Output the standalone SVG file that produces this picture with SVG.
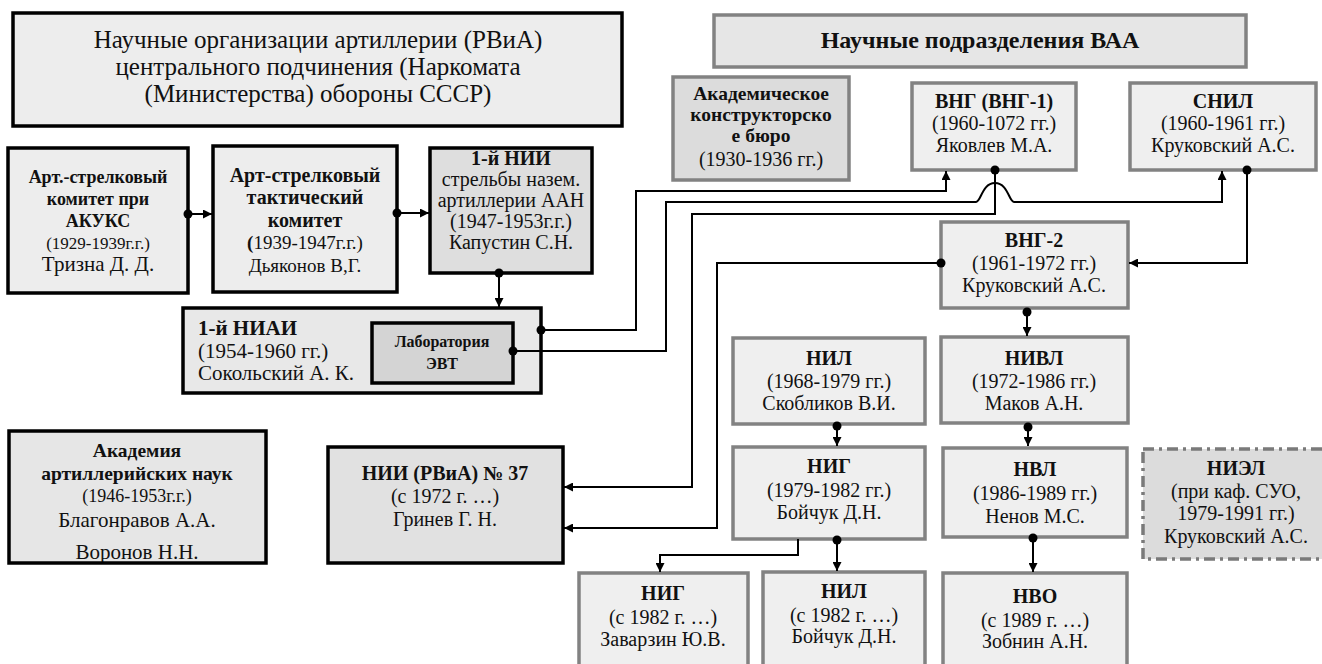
<svg xmlns="http://www.w3.org/2000/svg" width="1322" height="664" viewBox="0 0 1322 664" font-family="'Liberation Serif', 'DejaVu Serif', serif">
<style>
text{font-family:'Liberation Serif','DejaVu Serif',serif;fill:#111;text-anchor:middle;font-size:20px}
.bd{font-weight:bold}
.lt{text-anchor:start}
.kb{stroke:#000;stroke-width:3.5}
.gb{stroke:#828282;stroke-width:3.5}
.f1{fill:#ededed}
.f2{fill:#dedede}
.f3{fill:#e6e6e6}
.fg{fill:#efefef}
.dash{fill:#dcdcdc;stroke:#7a7a7a;stroke-width:3.5;stroke-dasharray:11 5 3 5}
.c{fill:none;stroke:#000;stroke-width:2}
.dot{fill:#000}
</style>
<defs>
<marker id="ar" viewBox="0 0 10 10" refX="10" refY="5" markerWidth="9" markerHeight="9" markerUnits="userSpaceOnUse" orient="auto">
<path d="M0,0 L10,5 L0,10 z" fill="#000"/>
</marker>
</defs>

<g id="title">
<rect x="13" y="13" width="609" height="113" class="kb f1"/>
<text x="318" y="48" style="font-size:25px">Научные организации артиллерии (РВиА)</text>
<text x="318" y="75" style="font-size:25px">центрального подчинения (Наркомата</text>
<text x="318" y="102" style="font-size:25px">(Министерства) обороны СССР)</text>
</g>

<g id="vaa">
<rect x="714" y="15" width="532" height="52" class="gb f3"/>
<text x="980" y="48" class="bd" style="font-size:24px">Научные подразделения ВАА</text>
</g>

<g id="akb">
<rect x="673" y="77" width="176" height="103" class="gb" fill="#dcdcdc"/>
<text x="761" y="100" class="bd" style="font-size:19.5px">Академическое</text>
<text x="761" y="121" class="bd" style="font-size:19.5px">конструкторско</text>
<text x="761" y="142" class="bd" style="font-size:19.5px">е бюро</text>
<text x="761" y="166">(1930-1936 гг.)</text>
</g>

<g id="vng1">
<rect x="912" y="83" width="164" height="87" class="gb fg"/>
<text x="994" y="108" class="bd">ВНГ (ВНГ-1)</text>
<text x="994" y="130">(1960-1072 гг.)</text>
<text x="994" y="152">Яковлев М.А.</text>
</g>

<g id="snil">
<rect x="1130" y="83" width="186" height="87" class="gb fg"/>
<text x="1223" y="108" class="bd">СНИЛ</text>
<text x="1223" y="130">(1960-1961 гг.)</text>
<text x="1223" y="152">Круковский А.С.</text>
</g>

<g id="akuks">
<rect x="8" y="148" width="180" height="145" class="kb f1"/>
<text x="98" y="183" class="bd" style="font-size:18px">Арт.-стрелковый</text>
<text x="98" y="205" class="bd" style="font-size:18px">комитет при</text>
<text x="98" y="227" class="bd" style="font-size:18px">АКУКС</text>
<text x="98" y="249" style="font-size:17px">(1929-1939г.г.)</text>
<text x="98" y="271" style="font-size:21px">Тризна Д. Д.</text>
</g>

<g id="ast">
<rect x="213" y="146" width="184" height="146" class="kb f1"/>
<text x="305" y="182" class="bd">Арт-стрелковый</text>
<text x="305" y="204" class="bd">тактический</text>
<text x="305" y="227" class="bd">комитет</text>
<text x="305" y="249" style="font-size:19px"><tspan class="bd">(</tspan>1939-1947г.г.)</text>
<text x="305" y="272" style="font-size:19px">Дьяконов В,Г.</text>
</g>

<g id="nii1">
<rect x="430" y="148" width="162" height="125" class="kb f2"/>
<text x="511" y="165" class="bd">1-й НИИ</text>
<text x="511" y="186">стрельбы назем.</text>
<text x="511" y="207">артиллерии ААН</text>
<text x="511" y="228">(1947-1953г.г.)</text>
<text x="511" y="249">Капустин С.Н.</text>
</g>

<g id="niai">
<rect x="183" y="308" width="358" height="85" class="kb" fill="#e8e8e8"/>
<text x="198" y="335" class="bd lt" style="font-size:21px">1-й НИАИ</text>
<text x="198" y="358" class="lt" style="font-size:21px">(1954-1960 гг.)</text>
<text x="198" y="380" class="lt" style="font-size:21px">Сокольский А. К.</text>
</g>

<g id="lab">
<rect x="372" y="323" width="141" height="60" class="kb" fill="#d4d4d4"/>
<text x="442" y="347" class="bd" style="font-size:16px">Лаборатория</text>
<text x="442" y="369" class="bd" style="font-size:16px">ЭВТ</text>
</g>

<g id="vng2">
<rect x="941" y="222" width="187" height="86" class="gb fg"/>
<text x="1034" y="247" class="bd">ВНГ-2</text>
<text x="1034" y="270">(1961-1972 гг.)</text>
<text x="1034" y="292">Круковский А.С.</text>
</g>

<g id="nil1968">
<rect x="733" y="338" width="192" height="86" class="gb fg"/>
<text x="829" y="365" class="bd">НИЛ</text>
<text x="829" y="388">(1968-1979 гг.)</text>
<text x="829" y="410">Скобликов В.И.</text>
</g>

<g id="nivl">
<rect x="941" y="337" width="187" height="86" class="gb fg"/>
<text x="1034" y="365" class="bd">НИВЛ</text>
<text x="1034" y="388">(1972-1986 гг.)</text>
<text x="1034" y="410">Маков А.Н.</text>
</g>

<g id="nig1979">
<rect x="733" y="447" width="192" height="92" class="gb fg"/>
<text x="829" y="473" class="bd">НИГ</text>
<text x="829" y="497">(1979-1982 гг.)</text>
<text x="829" y="519">Бойчук Д.Н.</text>
</g>

<g id="nvl">
<rect x="943" y="448" width="184" height="89" class="gb fg"/>
<text x="1035" y="476" class="bd">НВЛ</text>
<text x="1035" y="500">(1986-1989 гг.)</text>
<text x="1035" y="523">Ненов М.С.</text>
</g>

<g id="niel">
<rect x="1143" y="449" width="185" height="110" class="dash"/>
<text x="1236" y="475" class="bd">НИЭЛ</text>
<text x="1236" y="498">(при каф. СУО,</text>
<text x="1236" y="520">1979-1991 гг.)</text>
<text x="1236" y="543">Круковский А.С.</text>
</g>

<g id="aan">
<rect x="9" y="431" width="257" height="132" class="f3"/>
<text x="137" y="457" class="bd" style="font-size:19.5px">Академия</text>
<text x="137" y="480" class="bd" style="font-size:19.5px">артиллерийских наук</text>
<text x="137" y="502" style="font-size:18px">(1946-1953г.г.)</text>
<text x="137" y="527" style="font-size:21px">Благонравов А.А.</text>
<text x="137" y="559" style="font-size:21px">Воронов Н.Н.</text>
<rect x="9" y="431" width="257" height="132" class="kb" fill="none"/>
</g>

<g id="nii37">
<rect x="328" y="447" width="235" height="116" class="kb" fill="#e1e1e1"/>
<text x="445" y="480" class="bd">НИИ (РВиА) № 37</text>
<text x="445" y="503">(с 1972 г. …)</text>
<text x="445" y="526">Гринев Г. Н.</text>
</g>

<g id="nig1982">
<rect x="579" y="573" width="169" height="110" class="gb fg"/>
<text x="663" y="600" class="bd">НИГ</text>
<text x="663" y="624">(с 1982 г. …)</text>
<text x="663" y="646">Заварзин Ю.В.</text>
</g>

<g id="nil1982">
<rect x="763" y="572" width="162" height="110" class="gb fg"/>
<text x="844" y="598" class="bd">НИЛ</text>
<text x="844" y="622">(с 1982 г. …)</text>
<text x="844" y="643">Бойчук Д.Н.</text>
</g>

<g id="nvo">
<rect x="943" y="573" width="184" height="110" class="gb fg"/>
<text x="1035" y="603" class="bd">НВО</text>
<text x="1035" y="627">(с 1989 г. …)</text>
<text x="1035" y="648">Зобнин А.Н.</text>
</g>

<g id="connectors">
<path class="c" d="M188,214 H212" marker-end="url(#ar)"/>
<circle class="dot" cx="188" cy="214" r="4.5"/>
<path class="c" d="M397,213 H429" marker-end="url(#ar)"/>
<circle class="dot" cx="397" cy="213" r="4.5"/>
<path class="c" d="M499,273 V307" marker-end="url(#ar)"/>
<circle class="dot" cx="499" cy="273" r="4.5"/>

<path class="c" d="M541,330 H636 V191 H946 V171" marker-end="url(#ar)"/>
<circle class="dot" cx="541" cy="330" r="4.5"/>
<path class="c" d="M513,351 H666 V202 H976 C981,202 982,183 995,183 C1008,183 1009,202 1014,202 H1222 V171" marker-end="url(#ar)"/>
<circle class="dot" cx="513" cy="351" r="4.5"/>
<path class="c" d="M995,170 V214 H692 V487 H564" marker-end="url(#ar)"/>
<circle class="dot" cx="995" cy="170" r="4.5"/>
<path class="c" d="M941,263 H717 V528 H564" marker-end="url(#ar)"/>
<circle class="dot" cx="941" cy="263" r="4.5"/>
<path class="c" d="M1247,170 V263 H1129" marker-end="url(#ar)"/>
<circle class="dot" cx="1247" cy="170" r="4.5"/>

<path class="c" d="M1027,310 V336" marker-end="url(#ar)"/>
<circle class="dot" cx="1027" cy="312" r="4.5"/>
<path class="c" d="M837,424 V446" marker-end="url(#ar)"/>
<circle class="dot" cx="837" cy="426" r="4.5"/>
<path class="c" d="M1028,424 V446" marker-end="url(#ar)"/>
<circle class="dot" cx="1028" cy="427" r="4.5"/>
<path class="c" d="M837,539 V571" marker-end="url(#ar)"/>
<circle class="dot" cx="837" cy="540" r="4.5"/>
<path class="c" d="M798,539 V555 H660 V572" marker-end="url(#ar)"/>
<path class="c" d="M1033,537 V572" marker-end="url(#ar)"/>
<circle class="dot" cx="1033" cy="538" r="4.5"/>
</g>
</svg>
